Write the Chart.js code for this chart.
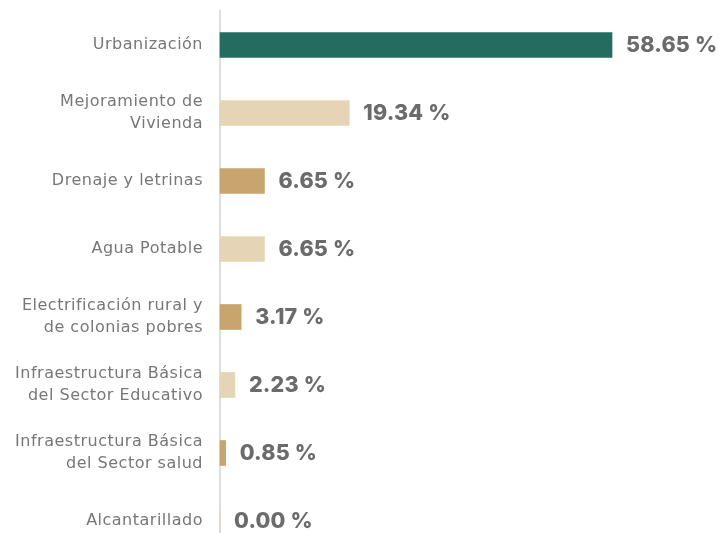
<!DOCTYPE html>
<html>
<head>
<meta charset="utf-8">
<script src="https://cdn.jsdelivr.net/npm/chart.js@4"></script>
<style>
  html, body { margin: 0; padding: 0; background: #fff; overflow: hidden; }
  #wrap { width: 719px; height: 533px; overflow: hidden; }
</style>
</head>
<body>
<div id="wrap"><canvas id="chart" width="719" height="556"></canvas></div>
<script>
const categories = [
  "Urbanización",
  ["Mejoramiento de", "Vivienda"],
  "Drenaje y letrinas",
  "Agua Potable",
  ["Electrificación rural y", "de colonias pobres"],
  ["Infraestructura Básica", "del Sector Educativo"],
  ["Infraestructura Básica", "del Sector salud"],
  "Alcantarillado",
];
const values = [58.65, 19.34, 6.65, 6.65, 3.17, 2.23, 0.85, 0.0];
const colors = ["#246c5f", "#e5d4b5", "#c8a46f", "#e5d4b5", "#c8a46f", "#e5d4b5", "#c8a46f", "#e5d4b5"];

// espaciado de letras para imitar la fuente ancha del original
const spacing = {
  id: "spacing",
  beforeInit(chart) { chart.ctx.letterSpacing = "0.5px"; },
  beforeDraw(chart) { chart.ctx.letterSpacing = "0.5px"; },
};

// etiquetas de valor a la derecha de cada barra
const valueLabels = {
  id: "valueLabels",
  afterDatasetsDraw(chart) {
    const ctx = chart.ctx;
    const meta = chart.getDatasetMeta(0);
    ctx.save();
    ctx.letterSpacing = "0.2px";
    ctx.font = "800 21.5px Inter";
    ctx.fillStyle = "#6b6b6b";
    ctx.textAlign = "left";
    ctx.textBaseline = "middle";
    meta.data.forEach((bar, i) => {
      ctx.fillText(values[i].toFixed(2) + " %", bar.x + 14, bar.y + 1);
    });
    ctx.restore();
  },
};

new Chart(document.getElementById("chart"), {
  type: "bar",
  data: {
    labels: categories,
    datasets: [
      {
        data: values,
        backgroundColor: colors,
        barThickness: 25,
        clip: false,
      },
    ],
  },
  options: {
    indexAxis: "y",
    responsive: false,
    animation: false,
    layout: { padding: { top: 11, bottom: 1, right: 107, left: 0 } },
    plugins: { legend: { display: false }, tooltip: { enabled: false } },
    scales: {
      x: { display: false, min: 0, max: 58.65 },
      y: {
        afterFit: (scale) => {
          scale.width = 220;
          scale.paddingTop = 0;
          scale.paddingBottom = 0;
        },
        grid: { display: false, drawTicks: false },
        border: { color: "#dddddd", width: 2 },
        ticks: {
          padding: 17,
          color: "#777777",
          font: { family: "DejaVu Sans", size: 16, lineHeight: "22px" },
        },
      },
    },
  },
  plugins: [spacing, valueLabels],
});
</script>
</body>
</html>
